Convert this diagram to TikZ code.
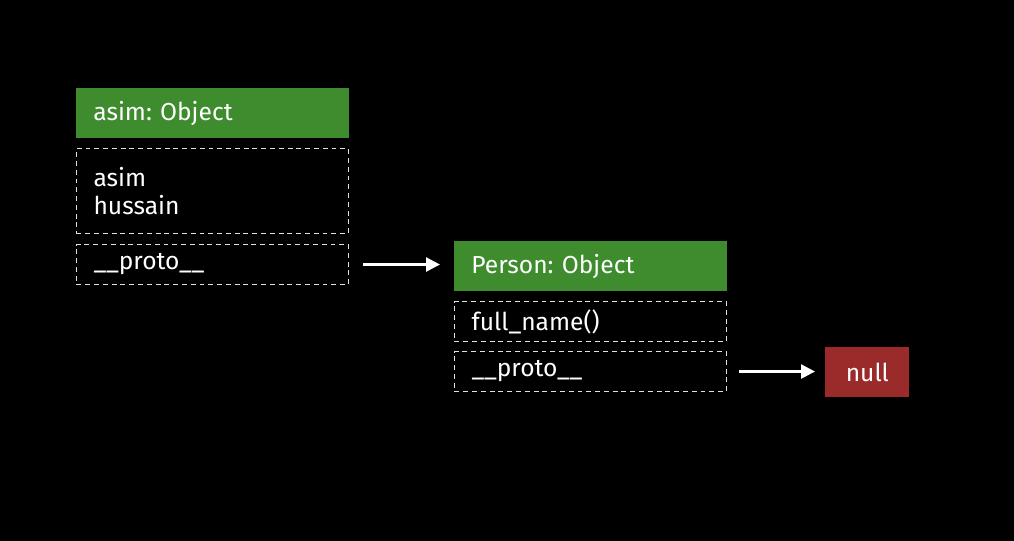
\documentclass[tikz,border=0pt]{standalone}
\usepackage{fontspec}
\setmainfont{Fira Sans}
\usepackage{tikz}
\usetikzlibrary{
  arrows,
  arrows.meta,
  positioning
}
\definecolor{objgreen}{RGB}{62,140,46}
\definecolor{nullred}{RGB}{155,42,42}
\definecolor{slotline}{RGB}{225,225,225}
\frenchspacing

\begin{document}
\begin{tikzpicture}[every text node part/.style={align=left},
  font=\fontsize{14}{16}\selectfont,text=white,
  >={Triangle[length=0.28cm,width=0.28cm]},
  header/.style={rectangle,fill=objgreen,anchor=north west,minimum height=1cm,text width=4.78cm,inner xsep=0.34cm},
  slot/.style={rectangle,draw=slotline,line width=0.6pt,dash pattern=on 2.8pt off 2.2pt,anchor=north west,text width=4.76cm,inner xsep=0.34cm},
  link/.style={->,white,line width=1.4pt}]
  \fill[black] (0,0) rectangle (20.28,-10.82);

  \node[header] (0) at (1.52,-1.76) {asim: Object};
  \node[slot,minimum height=1.7cm] (1) at (1.52,-2.96) {asim\\hussain};
  \node[slot,minimum height=0.8cm] (2) at (1.52,-4.88) {\_\_proto\_\_};

  \node[header] (3) at (9.08,-4.82) {Person: Object};
  \node[slot,minimum height=0.8cm] (4) at (9.08,-6.02) {full\_name()};
  \node[slot,minimum height=0.8cm] (5) at (9.08,-7.02) {\_\_proto\_\_};

  \node[rectangle,fill=nullred,anchor=north west,minimum width=1.68cm,minimum height=1cm] (6) at (16.5,-6.94) {null};

  \draw[link,shorten <=0.28cm,shorten >=0.28cm] (2.east) -- (2.east -| 3.west);
  \draw[link,shorten <=0.24cm,shorten >=0.2cm] (5.east) -- (5.east -| 6.west);
\end{tikzpicture}
\end{document}
